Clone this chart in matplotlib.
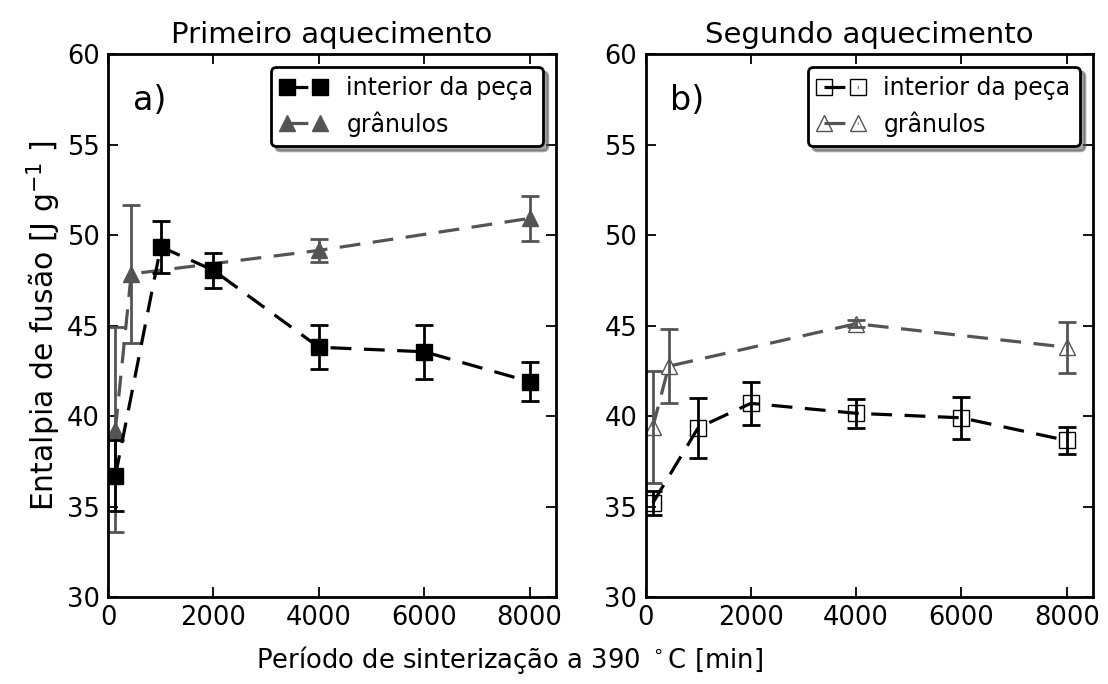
import matplotlib
matplotlib.use("Agg")
import matplotlib.pyplot as plt
import matplotlib.patches as mpatches

# ---- data ----
sq1_x = [140, 1000, 2000, 4000, 6000, 8000]
sq1_y = [36.7, 49.35, 48.05, 43.8, 43.55, 41.9]
sq1_err = [1.95, 1.45, 0.95, 1.22, 1.5, 1.08]
tri1_x = [140, 440, 4000, 8000]
tri1_y = [39.25, 47.85, 49.15, 50.92]
tri1_err = [5.65, 3.8, 0.63, 1.25]

sq2_x = [140, 1000, 2000, 4000, 6000, 8000]
sq2_y = [35.2, 39.35, 40.7, 40.15, 39.9, 38.65]
sq2_err = [0.68, 1.67, 1.17, 0.8, 1.17, 0.73]
tri2_x = [140, 440, 4000, 8000]
tri2_y = [39.4, 42.75, 45.1, 43.8]
tri2_err = [3.1, 2.05, 0.2, 1.42]

titles = ["Primeiro aquecimento", "Segundo aquecimento"]
panel_tags = ["a)", "b)"]
labels = ["interior da peça", "grânulos"]
xticks = [0, 2000, 4000, 6000, 8000]
yticks = [30, 35, 40, 45, 50, 55, 60]

plt.rcParams['font.family'] = ['DejaVu Sans']
plt.rcParams['lines.scale_dashes'] = False

# larger legend shadow offset (like the reference)
_orig_shadow_init = mpatches.Shadow.__init__
def _shadow_init(self, patch, ox, oy, **kw):
    _orig_shadow_init(self, patch, 3.5, -3.5, **kw)
mpatches.Shadow.__init__ = _shadow_init

GRAY = '0.33'
TICK_FS = 18.5

fig = plt.figure(figsize=(11.08, 6.84), dpi=100)
ax1 = fig.add_axes([0.0975, 0.1272, 0.4043, 0.7938])
ax2 = fig.add_axes([0.5826, 0.1272, 0.4039, 0.7938])

def style(ax):
    ax.set_xlim(0, 8500)
    ax.set_ylim(30, 60)
    ax.set_xticks(xticks)
    ax.set_yticks(yticks)
    ax.tick_params(direction='in', length=7.5, width=1.3, top=True, right=True,
                   labelsize=TICK_FS, pad=6)
    for s in ax.spines.values():
        s.set_linewidth(2)

dash = (15, 9)

def draw(ax, filled, sx, sy, se, tx, ty, te, tag, title):
    if filled:
        tri_kw = dict(mfc=GRAY, mec=GRAY, mew=1.0)
        sq_kw = dict(mfc='k', mec='k', mew=1.0)
    else:
        tri_kw = dict(mfc='none', mec=GRAY, mew=1.0)
        sq_kw = dict(mfc='none', mec='k', mew=1.0)
    ax.errorbar(tx, ty, yerr=te, fmt='none', ecolor=GRAY, capsize=6.5,
                elinewidth=2, capthick=2)
    l2, = ax.plot(tx, ty, '--', color=GRAY, lw=2.3, dashes=dash, marker='^',
                  ms=11, **tri_kw)
    ax.errorbar(sx, sy, yerr=se, fmt='none', ecolor='k', capsize=6.5,
                elinewidth=2, capthick=2)
    l1, = ax.plot(sx, sy, '--', color='k', lw=2.3, dashes=dash, marker='s',
                  ms=11, **sq_kw)
    leg = ax.legend([l1, l2], labels, loc='upper right', numpoints=2,
                    fontsize=17, fancybox=True, shadow=True,
                    handlelength=2.0, handletextpad=0.8, borderaxespad=0.55,
                    framealpha=1, edgecolor='k', borderpad=0.4, labelspacing=0.45)
    leg.get_frame().set_linewidth(2)
    ax.text(0.055, 0.915, tag, transform=ax.transAxes, fontsize=24,
            va='center', ha='left')
    ax.set_title(title, fontsize=21, pad=8)
    style(ax)

draw(ax1, True, sq1_x, sq1_y, sq1_err, tri1_x, tri1_y, tri1_err, panel_tags[0], titles[0])
draw(ax2, False, sq2_x, sq2_y, sq2_err, tri2_x, tri2_y, tri2_err, panel_tags[1], titles[1])

ax1.set_ylabel("Entalpia de fusão [J g$^{-1}$ ]", fontsize=21.5, labelpad=3)
fig.text(0.46, 0.035, "Período de sinterização a 390 $^\\circ$C [min]",
         fontsize=18.6, ha='center', va='center')

fig.savefig("out.png", dpi=100)
